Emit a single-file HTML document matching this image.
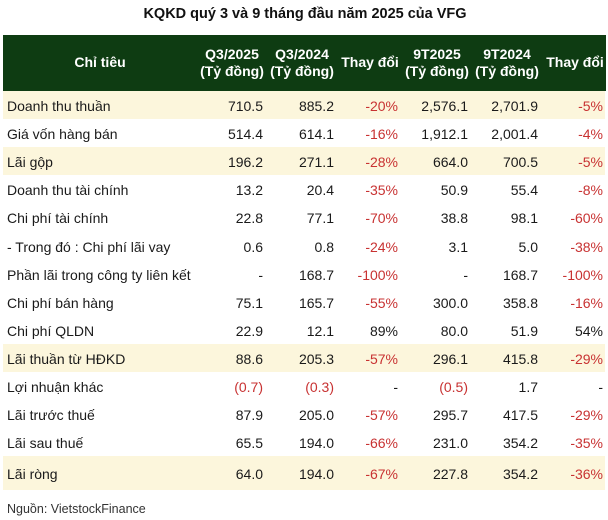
<!DOCTYPE html>
<html><head><meta charset="utf-8">
<style>
html,body{margin:0;padding:0;background:#fff;}
body{width:608px;height:520px;position:relative;overflow:hidden;font-family:"Liberation Sans",Arial,sans-serif;color:#1a1a1a;}
.title{position:absolute;left:0;width:610px;top:5px;text-align:center;font-weight:bold;font-size:14.5px;line-height:18px;color:#111;}
.hdr{position:absolute;left:3px;width:603px;top:35px;height:56px;background:#0e3c12;}
.h{position:absolute;color:#fff;font-weight:bold;font-size:14px;line-height:17px;text-align:center;white-space:nowrap;width:90px;}
.row{position:absolute;left:3px;width:602px;height:28.1px;}
.hl{background:#fcf6dc;}
.c{position:absolute;top:0;height:100%;font-size:14px;white-space:nowrap;display:flex;align-items:center;padding-top:2px;box-sizing:border-box;}
.l{left:4px;}
.r{color:#c83232;}
.foot{position:absolute;left:7px;top:502px;font-size:12.5px;color:#333;line-height:14px;}
</style></head><body>
<div class="title">KQKD quý 3 và 9 tháng đầu năm 2025 của VFG</div>
<div class="hdr">
  <div class="h" style="left:52px;top:19px;">Chỉ tiêu</div>
  <div class="h" style="left:184px;top:11px;">Q3/2025<br>(Tỷ đồng)</div>
  <div class="h" style="left:254px;top:11px;">Q3/2024<br>(Tỷ đồng)</div>
  <div class="h" style="left:322px;top:19px;">Thay đổi</div>
  <div class="h" style="left:389px;top:11px;">9T2025<br>(Tỷ đồng)</div>
  <div class="h" style="left:459px;top:11px;">9T2024<br>(Tỷ đồng)</div>
  <div class="h" style="left:527px;top:19px;">Thay đổi</div>
</div>

<div id="rows"></div>

<div class="row hl" style="top:91px;"><span class="c l">Doanh thu thuần</span><span class="c" style="right:342px">710.5</span><span class="c" style="right:271px">885.2</span><span class="c r" style="right:207px">-20%</span><span class="c" style="right:137px">2,576.1</span><span class="c" style="right:67px">2,701.9</span><span class="c r" style="right:2px">-5%</span></div>
<div class="row" style="top:119.1px;"><span class="c l">Giá vốn hàng bán</span><span class="c" style="right:342px">514.4</span><span class="c" style="right:271px">614.1</span><span class="c r" style="right:207px">-16%</span><span class="c" style="right:137px">1,912.1</span><span class="c" style="right:67px">2,001.4</span><span class="c r" style="right:2px">-4%</span></div>
<div class="row hl" style="top:147.2px;"><span class="c l">Lãi gộp</span><span class="c" style="right:342px">196.2</span><span class="c" style="right:271px">271.1</span><span class="c r" style="right:207px">-28%</span><span class="c" style="right:137px">664.0</span><span class="c" style="right:67px">700.5</span><span class="c r" style="right:2px">-5%</span></div>
<div class="row" style="top:175.3px;"><span class="c l">Doanh thu tài chính</span><span class="c" style="right:342px">13.2</span><span class="c" style="right:271px">20.4</span><span class="c r" style="right:207px">-35%</span><span class="c" style="right:137px">50.9</span><span class="c" style="right:67px">55.4</span><span class="c r" style="right:2px">-8%</span></div>
<div class="row" style="top:203.4px;"><span class="c l">Chi phí tài chính</span><span class="c" style="right:342px">22.8</span><span class="c" style="right:271px">77.1</span><span class="c r" style="right:207px">-70%</span><span class="c" style="right:137px">38.8</span><span class="c" style="right:67px">98.1</span><span class="c r" style="right:2px">-60%</span></div>
<div class="row" style="top:231.5px;"><span class="c l">- Trong đó : Chi phí lãi vay</span><span class="c" style="right:342px">0.6</span><span class="c" style="right:271px">0.8</span><span class="c r" style="right:207px">-24%</span><span class="c" style="right:137px">3.1</span><span class="c" style="right:67px">5.0</span><span class="c r" style="right:2px">-38%</span></div>
<div class="row" style="top:259.6px;"><span class="c l">Phần lãi trong công ty liên kết</span><span class="c" style="right:342px">-</span><span class="c" style="right:271px">168.7</span><span class="c r" style="right:207px">-100%</span><span class="c" style="right:137px">-</span><span class="c" style="right:67px">168.7</span><span class="c r" style="right:2px">-100%</span></div>
<div class="row" style="top:287.7px;"><span class="c l">Chi phí bán hàng</span><span class="c" style="right:342px">75.1</span><span class="c" style="right:271px">165.7</span><span class="c r" style="right:207px">-55%</span><span class="c" style="right:137px">300.0</span><span class="c" style="right:67px">358.8</span><span class="c r" style="right:2px">-16%</span></div>
<div class="row" style="top:315.8px;"><span class="c l">Chi phí QLDN</span><span class="c" style="right:342px">22.9</span><span class="c" style="right:271px">12.1</span><span class="c" style="right:207px">89%</span><span class="c" style="right:137px">80.0</span><span class="c" style="right:67px">51.9</span><span class="c" style="right:2px">54%</span></div>
<div class="row hl" style="top:343.9px;"><span class="c l">Lãi thuần từ HĐKD</span><span class="c" style="right:342px">88.6</span><span class="c" style="right:271px">205.3</span><span class="c r" style="right:207px">-57%</span><span class="c" style="right:137px">296.1</span><span class="c" style="right:67px">415.8</span><span class="c r" style="right:2px">-29%</span></div>
<div class="row" style="top:372px;"><span class="c l">Lợi nhuận khác</span><span class="c r" style="right:342px">(0.7)</span><span class="c r" style="right:271px">(0.3)</span><span class="c" style="right:207px">-</span><span class="c r" style="right:137px">(0.5)</span><span class="c" style="right:67px">1.7</span><span class="c" style="right:2px">-</span></div>
<div class="row" style="top:400.1px;"><span class="c l">Lãi trước thuế</span><span class="c" style="right:342px">87.9</span><span class="c" style="right:271px">205.0</span><span class="c r" style="right:207px">-57%</span><span class="c" style="right:137px">295.7</span><span class="c" style="right:67px">417.5</span><span class="c r" style="right:2px">-29%</span></div>
<div class="row" style="top:428.2px;"><span class="c l">Lãi sau thuế</span><span class="c" style="right:342px">65.5</span><span class="c" style="right:271px">194.0</span><span class="c r" style="right:207px">-66%</span><span class="c" style="right:137px">231.0</span><span class="c" style="right:67px">354.2</span><span class="c r" style="right:2px">-35%</span></div>
<div class="row hl" style="top:456.3px;height:33.7px;"><span class="c l">Lãi ròng</span><span class="c" style="right:342px">64.0</span><span class="c" style="right:271px">194.0</span><span class="c r" style="right:207px">-67%</span><span class="c" style="right:137px">227.8</span><span class="c" style="right:67px">354.2</span><span class="c r" style="right:2px">-36%</span></div>

<div class="foot">Nguồn: VietstockFinance</div>
</body></html>
